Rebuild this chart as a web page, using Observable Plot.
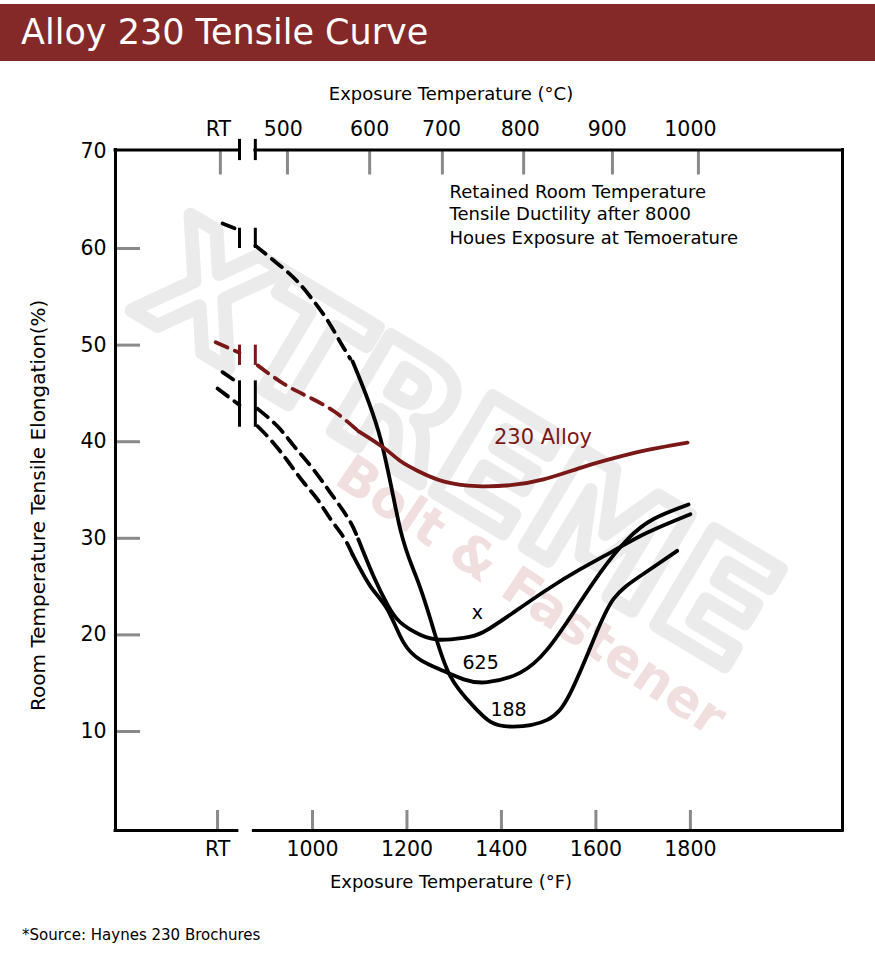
<!DOCTYPE html>
<html><head><meta charset="utf-8">
<script src="https://cdn.jsdelivr.net/npm/d3@7"></script>
<script src="https://cdn.jsdelivr.net/npm/@observablehq/plot@0.6"></script>
<style>
body{margin:0;background:#fff;font-family:"DejaVu Sans",sans-serif;}
#banner{margin-top:4px;height:57px;background:#842828;color:#fff;font-size:35px;line-height:57px;padding-left:21px;}
#chart svg{display:block}
#caption{font-size:15px;margin:20px 0 0 22px;color:#000;line-height:20px}
</style></head><body>
<div id="banner">Alloy 230 Tensile Curve</div>
<div id="chart"></div>
<div id="caption">*Source: Haynes 230 Brochures</div>
<script>
// ---- scales / axes (°F on x, elongation % on y)
const xDomain = [583, 2122];
const yDomain = [-0.25, 70.2];
const yTicks = [10, 20, 30, 40, 50, 60];
const yTickLabels = [10, 20, 30, 40, 50, 60, 70];
const fTickPos = [799, 1000, 1200, 1400, 1600, 1800];
const fTickText = ["RT", "1000", "1200", "1400", "1600", "1800"];
const cTickPos = [805, 947, 1121, 1275, 1447, 1635, 1817];
const cLabelPos = [801, 938, 1121, 1273, 1440, 1624, 1800];
const cTickText = ["RT", "500", "600", "700", "800", "900", "1000"];
const breakF = [845.5, 879];        // axis / curve break between RT and 500°C
const bottomGapF = [841, 876];      // gap in the bottom axis line

// ---- curve breaks (elongation range of the "| |" marks)
const breakSeries = ["188", "230 Alloy", "x"];
const breakLow = [60.0, 47.9, 41.5];
const breakHigh = [62.1, 50.0, 46.3];

// ---- curves: [°F, elongation %]
const a188Start = [[809.5, 62.6], [845.5, 61.9]];
const a188Dash = [[879, 60.3], [932, 58.2], [968, 56.6], [1002, 54.6], [1034, 52.4], [1059, 50.3], [1080, 48.6]];
const a188Solid = [[1085, 48.3], [1144, 40.3], [1186, 30.9], [1222, 25.7], [1256, 20.6], [1292, 15.7], [1341, 12.6], [1377, 11.0], [1425, 10.5], [1497, 11.2], [1546, 14.0], [1595, 19.5], [1637, 23.7], [1694, 26.1], [1772, 28.7]];

const a230Start = [[795, 50.3], [845.5, 49.2]];
const a230Dash = [[884, 47.9], [939, 46.0], [989, 44.7], [1044, 43.2], [1097, 41.1]];
const a230Solid = [[1097, 41.1], [1150, 39.4], [1186, 38.0], [1222, 37.0], [1277, 35.9], [1349, 35.4], [1419, 35.5], [1489, 36.1], [1574, 37.4], [1646, 38.4], [1715, 39.2], [1794, 39.9]];

const axStart = [[809.5, 47.2], [845.5, 46.0]];
const axDash = [[884, 43.4], [926, 41.6], [960, 39.6], [996, 37.5], [1028, 35.4], [1053, 33.7], [1080, 31.7], [1097, 29.9]];
const axSolid = [[1097, 29.9], [1129, 26.1], [1159, 23.1], [1186, 21.3], [1229, 20.0], [1271, 19.5], [1320, 19.7], [1362, 20.3], [1425, 22.3], [1497, 24.7], [1567, 26.8], [1637, 28.7], [1709, 30.6], [1800, 32.5]];

const a625Start = [[799, 45.5], [845.5, 43.8]];
const a625Dash = [[884, 41.6], [915, 40.0], [949, 37.9], [981, 35.8], [1011, 34.0], [1038, 32.0], [1066, 30.1], [1085, 28.3]];
const a625Solid = [[1085, 28.3], [1123, 25.0], [1159, 22.6], [1193, 19.2], [1229, 17.4], [1271, 16.4], [1320, 15.4], [1370, 15.1], [1440, 16.1], [1497, 18.5], [1552, 22.3], [1610, 26.5], [1667, 29.9], [1722, 32.0], [1796, 33.5]];

// ---- curve labels
const labelText = ["230 Alloy", "x", "625", "188"];
const labelF = [1488, 1349, 1356, 1415];
const labelP = [40.5, 22.3, 17.1, 12.2];

// ---- annotation
const noteLines = ["Retained Room Temperature", "Tensile Ductility after 8000", "Houes Exposure at Temoerature"];
const noteF = 1290;
const noteP = [65.8, 63.5, 61.1];

// ---- build tables
const RED = "#7a1717";
const colorOf = name => name === "230 Alloy" ? RED : "#000";
const toRows = (pts, name, part) => pts.map(([f, p]) => ({f, p, name, part, key: name + "-" + part}));
const dashed = [
  ...toRows(a188Start, "188", "s"), ...toRows(a188Dash, "188", "d"),
  ...toRows(a230Start, "230 Alloy", "s"), ...toRows(a230Dash, "230 Alloy", "d"),
  ...toRows(axStart, "x", "s"), ...toRows(axDash, "x", "d"),
  ...toRows(a625Start, "625", "s"), ...toRows(a625Dash, "625", "d")
];
const solid = [
  ...toRows(a188Solid, "188", "l"), ...toRows(a230Solid, "230 Alloy", "l"),
  ...toRows(axSolid, "x", "l"), ...toRows(a625Solid, "625", "l")
];
const bars = breakSeries.flatMap((s, i) => breakF.map(x => ({x, y1: breakLow[i], y2: breakHigh[i], name: s})));
const labels = labelText.map((t, i) => ({t, f: labelF[i], p: labelP[i]}));
const notes = noteLines.map((t, i) => ({t, f: noteF, p: noteP[i]}));
const fTicks = fTickPos.map((x, i) => ({x, t: fTickText[i]}));
const cLabels = cLabelPos.map((x, i) => ({x, t: cTickText[i]}));

const W = 875, H = 844, mL = 115, mR = 33, mT = 88.5, mB = 75;
const plotW = W - mL - mR, plotH = H - mT - mB;
const FONT = "'DejaVu Sans', sans-serif";

const chart = Plot.plot({
  width: W, height: H,
  marginLeft: mL, marginRight: mR, marginTop: mT, marginBottom: mB,
  style: {fontFamily: FONT, background: "#fff"},
  x: {domain: xDomain, axis: null},
  y: {domain: yDomain, axis: null},
  marks: [
    // watermark
    Plot.text(["XTREME"], {text: d => d, frameAnchor: "middle", lineAnchor: "middle", textAnchor: "middle", dx: -22, dy: -42, rotate: 31, fontSize: 154, fontWeight: "bold", fill: "none", stroke: "#ebebeb", strokeWidth: 14}),
    Plot.text(["Bolt & Fastener"], {text: d => d, frameAnchor: "middle", lineAnchor: "middle", textAnchor: "middle", dx: 52, dy: 106, rotate: 34, fontSize: 52, fontWeight: "bold", fill: "#f1dfdf"}),
    // ticks
    Plot.tickY(yTicks, {y: d => d, stroke: "#8a8a8a", strokeWidth: 3, insetRight: plotW - 25}),
    Plot.tickX(cTickPos, {x: d => d, stroke: "#8a8a8a", strokeWidth: 3, insetBottom: plotH - 25}),
    Plot.tickX(fTickPos, {x: d => d, stroke: "#8a8a8a", strokeWidth: 3, insetTop: plotH - 20}),
    // frame
    Plot.ruleX(xDomain, {x: d => d, stroke: "#000", strokeWidth: 3, strokeLinecap: "square"}),
    Plot.ruleY([[xDomain[0], breakF[0]], [breakF[1], xDomain[1]]], {y: () => yDomain[1], x1: d => d[0], x2: d => d[1], stroke: "#000", strokeWidth: 3, strokeLinecap: "square"}),
    Plot.ruleY([[xDomain[0], bottomGapF[0]], [bottomGapF[1], xDomain[1]]], {y: () => yDomain[0], x1: d => d[0], x2: d => d[1], stroke: "#000", strokeWidth: 3, strokeLinecap: "square"}),
    Plot.ruleX(breakF, {x: d => d, y1: () => yDomain[1] - 1.1, y2: () => yDomain[1] + 1.1, stroke: "#000", strokeWidth: 3}),
    // curve break marks
    Plot.ruleX(bars, {x: "x", y1: "y1", y2: "y2", stroke: d => colorOf(d.name), strokeWidth: 3}),
    // curves
    Plot.line(dashed, {x: "f", y: "p", z: "key", stroke: d => colorOf(d.name), strokeWidth: 3.8, strokeDasharray: "13,8", curve: "natural"}),
    Plot.line(solid, {x: "f", y: "p", z: "key", stroke: d => colorOf(d.name), strokeWidth: 3.8, curve: "natural"}),
    // labels
    Plot.text(labels, {x: "f", y: "p", text: "t", fontSize: d => d.t === "230 Alloy" ? 21 : 19, fill: d => d.t === "230 Alloy" ? RED : "#000"}),
    Plot.text(notes, {x: "f", y: "p", text: "t", fontSize: 18, textAnchor: "start", fill: "#000"}),
    // axis labels
    Plot.text(yTickLabels, {y: d => d, text: d => String(d), frameAnchor: "left", lineAnchor: "middle", dx: -9, textAnchor: "end", fontSize: 20.5, fill: "#000"}),
    Plot.text(fTicks, {x: "x", text: "t", frameAnchor: "bottom", lineAnchor: "middle", dy: 19, fontSize: 20.5, fill: "#000"}),
    Plot.text(cLabels, {x: "x", text: "t", frameAnchor: "top", lineAnchor: "middle", dy: -21, fontSize: 20.5, fill: "#000"}),
    Plot.text(["Exposure Temperature (°C)"], {text: d => d, frameAnchor: "top", lineAnchor: "middle", textAnchor: "middle", dx: -28, dy: -56, fontSize: 18, fill: "#000"}),
    Plot.text(["Exposure Temperature (°F)"], {text: d => d, frameAnchor: "bottom", lineAnchor: "middle", textAnchor: "middle", dx: -28, dy: 52, fontSize: 18, fill: "#000"}),
    Plot.text(["Room Temperature Tensile Elongation(%)"], {text: d => d, frameAnchor: "left", lineAnchor: "middle", textAnchor: "middle", dx: -77, dy: 15, rotate: -90, fontSize: 20, fill: "#000"})
  ]
});
document.getElementById("chart").appendChild(chart);
</script>
</body></html>
